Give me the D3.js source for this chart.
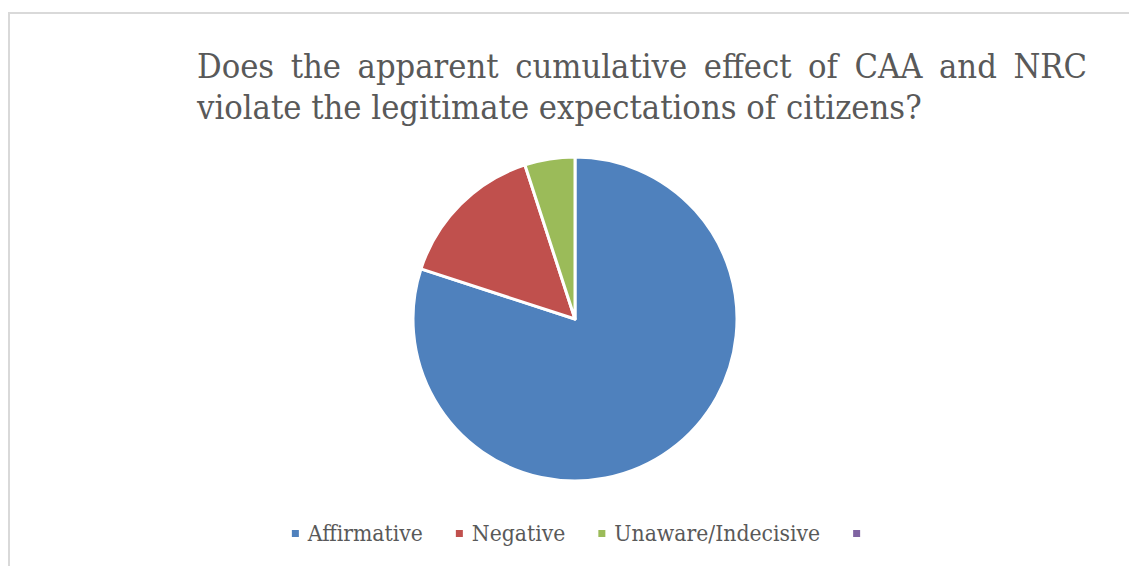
<!DOCTYPE html>
<html>
<head>
<meta charset="utf-8">
<script src="https://cdn.jsdelivr.net/npm/d3@7"></script>
<style>
  html, body { margin: 0; padding: 0; background: #ffffff; }
  svg { display: block; }
</style>
</head>
<body>
<svg id="chart" width="1129" height="566"></svg>
<script>
// Survey responses
const categories = ["Affirmative", "Negative", "Unaware/Indecisive", ""];
const values = [80, 15, 5, 0];
const colors = ["#4F81BD", "#C0504D", "#9BBB59", "#8064A2"];
const titleLines = [
  "Does the apparent cumulative effect of CAA and NRC",
  "violate the legitimate expectations of citizens?"
];

const W = 1129, H = 566;
const FONT = "'DejaVu Serif Condensed', 'DejaVu Serif', 'Liberation Serif', serif";
const TEXT = "#595959";

const svg = d3.select("#chart");

// Chart area frame (only top and left edges fall inside the page)
svg.append("rect")
  .attr("x", 9).attr("y", 13)
  .attr("width", W + 20).attr("height", H + 20)
  .attr("fill", "#ffffff")
  .attr("stroke", "#d9d9d9")
  .attr("stroke-width", 2);

// font size that makes a string span a given width
function fitSize(str, width, base) {
  const t = svg.append("text").attr("font-family", FONT).attr("font-size", base).text(str);
  const w = t.node().getComputedTextLength();
  t.remove();
  return base * width / w;
}

// ---- Title: first line justified, second line left aligned ----
const titleLeft = 197, titleRight = 1087;
const title = svg.append("g").attr("font-family", FONT).attr("fill", TEXT);
const titleSize = fitSize(titleLines[1], 725, 34);

const words = titleLines[0].split(" ");
const wordNodes = words.map(w =>
  title.append("text").attr("font-size", titleSize).attr("y", 78).text(w));
const widths = wordNodes.map(n => n.node().getComputedTextLength());
const gap = (titleRight - titleLeft - d3.sum(widths)) / (words.length - 1);
let cx = titleLeft;
wordNodes.forEach((n, i) => { n.attr("x", cx); cx += widths[i] + gap; });

title.append("text")
  .attr("font-size", titleSize)
  .attr("x", titleLeft).attr("y", 119)
  .text(titleLines[1]);

// ---- Pie ----
const center = [575, 319];
const radius = 162;

const pie = d3.pie().sort(null).value(d => d.value);
const arc = d3.arc().innerRadius(0).outerRadius(radius);
const data = categories.map((c, i) => ({ name: c, value: values[i], color: colors[i] }));

svg.append("g")
  .attr("transform", `translate(${center[0]},${center[1]})`)
  .selectAll("path")
  .data(pie(data).filter(d => d.data.value > 0))
  .join("path")
  .attr("d", arc)
  .attr("fill", d => d.data.color)
  .attr("stroke", "#ffffff")
  .attr("stroke-width", 3)
  .attr("stroke-linejoin", "round");

// ---- Legend ----
const legendSize = fitSize(categories[0], 115, 19);
const legend = svg.append("g").attr("font-family", FONT).attr("font-size", legendSize).attr("fill", TEXT);
const sq = 7, sqGap = 9, itemGap = 33;
const items = data.map(d => {
  const g = legend.append("g");
  g.append("rect").attr("width", sq).attr("height", sq).attr("y", -11).attr("fill", d.color);
  const t = g.append("text").attr("x", sq + sqGap).attr("y", 0).text(d.name);
  const tw = d.name ? t.node().getComputedTextLength() : 0;
  return { g, w: sq + (d.name ? sqGap + tw : 0) };
});
const totalW = d3.sum(items, d => d.w) + itemGap * (items.length - 1);
let lx = center[0] + 1 - totalW / 2;
items.forEach(it => {
  it.g.attr("transform", `translate(${lx},541)`);
  lx += it.w + itemGap;
});
</script>
</body>
</html>
